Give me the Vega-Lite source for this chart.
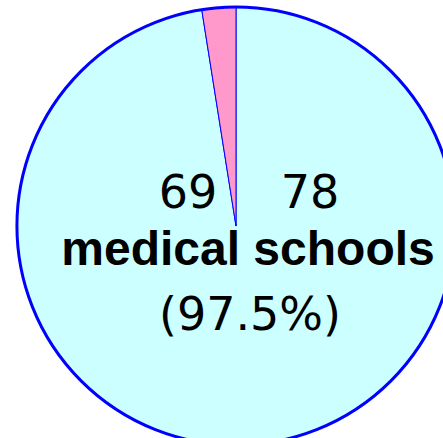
{
  "$schema": "https://vega.github.io/schema/vega-lite/v6.json",
  "width": 472,
  "height": 452,
  "autosize": {"type": "none"},
  "padding": 0,
  "background": "white",
  "config": {"view": {"stroke": null}},
  "layer": [
    {
      "data": {"values": [
        {"group": "medical schools", "value": 97.5, "order": 1},
        {"group": "other", "value": 2.5, "order": 2}
      ]},
      "mark": {"type": "arc", "outerRadius": 219, "stroke": "#0000FF", "strokeWidth": 1},
      "encoding": {
        "theta": {"field": "value", "type": "quantitative", "stack": true},
        "order": {"field": "order", "type": "quantitative"},
        "color": {"field": "group", "type": "nominal", "legend": null,
          "scale": {"domain": ["medical schools", "other"], "range": ["#CCFFFF", "#FF99CC"]}}
      }
    },
    {
      "data": {"values": [{"value": 100}]},
      "mark": {"type": "arc", "outerRadius": 219, "fill": null, "fillOpacity": 0, "stroke": "#0000FF", "strokeWidth": 3},
      "encoding": {"theta": {"field": "value", "type": "quantitative"}}
    },
    {
      "data": {"values": [{"t": "69"}]},
      "mark": {"type": "text", "fontSize": 46, "font": "DejaVu Sans", "align": "center", "baseline": "alphabetic", "dx": -48, "dy": -18, "color": "black"},
      "encoding": {"text": {"field": "t"}}
    },
    {
      "data": {"values": [{"t": "78"}]},
      "mark": {"type": "text", "fontSize": 46, "font": "DejaVu Sans", "align": "center", "baseline": "alphabetic", "dx": 74, "dy": -18, "color": "black"},
      "encoding": {"text": {"field": "t"}}
    },
    {
      "data": {"values": [{"t": "medical schools"}]},
      "mark": {"type": "text", "fontSize": 48, "fontWeight": "bold", "font": "Liberation Sans", "align": "center", "baseline": "alphabetic", "dx": 12, "dy": 39, "color": "black"},
      "encoding": {"text": {"field": "t"}}
    },
    {
      "data": {"values": [{"t": "(97.5%)"}]},
      "mark": {"type": "text", "fontSize": 46, "font": "DejaVu Sans", "align": "center", "baseline": "alphabetic", "dx": 14, "dy": 104, "color": "black"},
      "encoding": {"text": {"field": "t"}}
    }
  ]
}
